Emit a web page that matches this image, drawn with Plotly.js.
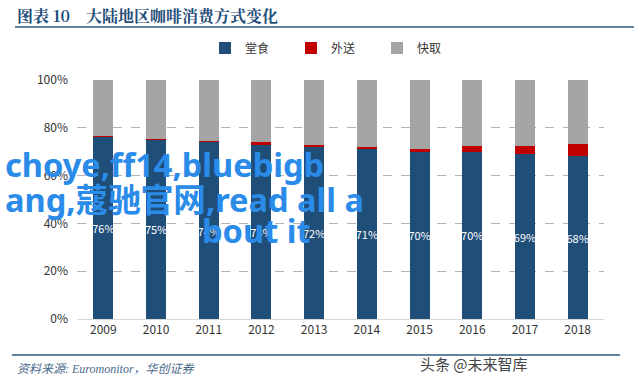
<!DOCTYPE html>
<html>
<head>
<meta charset="utf-8">
<script src="https://cdn.plot.ly/plotly-3.0.1.min.js"></script>
<style>
html,body{margin:0;padding:0;background:#fff;}
#chart{width:640px;height:385px;}
</style>
</head>
<body>
<div id="chart"></div>
<script>
// ---- data ----
var years = ["2009","2010","2011","2012","2013","2014","2015","2016","2017","2018"];
var dineIn = [76, 75, 74, 73, 72, 71, 70, 70, 69, 68];      // 堂食
var delivery = [0.5, 0.5, 0.5, 1, 1, 1, 1, 2.5, 3.5, 5.3];  // 外送
var takeaway = [23.5, 24.5, 25.5, 26, 27, 28, 29, 27.5, 27.5, 26.7]; // 快取
var seriesNames = ["堂食", "外送", "快取"];
var yTickVals = [0, 20, 40, 60, 80, 100];
var yTickText = ["0%", "20%", "40%", "60%", "80%", "100%"];

var W = 640, H = 385;
var mL = 77, mR = 36, mT = 80, mB = 66;
var pw = W - mL - mR, ph = H - mT - mB;
function px(x){ return (x - mL) / pw; }
function py(y){ return (H - mB - y) / ph; }

var cjk = '"Microsoft YaHei","Noto Sans CJK SC","Noto Sans",sans-serif';
var overlayFont = '"Noto Sans","Noto Sans CJK SC",sans-serif';

var traces = [
  {
    type: 'bar', name: seriesNames[0], x: years, y: dineIn,
    marker: {color: '#1f4e79'},
    text: dineIn.map(function(v){ return v + '%'; }),
    textposition: 'inside', insidetextanchor: 'middle',
    textangle: 0, constraintext: 'none',
    textfont: {color: '#ffffff', size: 11, family: cjk},
    hoverinfo: 'skip'
  },
  {
    type: 'bar', name: seriesNames[1], x: years, y: delivery,
    marker: {color: '#c00000'}, hoverinfo: 'skip', textposition: 'none'
  },
  {
    type: 'bar', name: seriesNames[2], x: years, y: takeaway,
    marker: {color: '#a5a5a5'}, hoverinfo: 'skip', textposition: 'none'
  }
];

var blue = '#2b8be8';
var layout = {
  width: W, height: H,
  margin: {l: mL, r: mR, t: mT, b: mB, pad: 0},
  paper_bgcolor: '#ffffff', plot_bgcolor: '#ffffff',
  barmode: 'stack', bargap: 0.62,
  font: {family: cjk, size: 12, color: '#333333'},
  showlegend: true,
  legend: {
    orientation: 'h', x: px(205), y: py(48), xanchor: 'left', yanchor: 'middle',
    entrywidth: 41, entrywidthmode: 'pixels',
    font: {size: 12, color: '#333333', family: cjk},
    bgcolor: 'rgba(0,0,0,0)', traceorder: 'normal'
  },
  xaxis: {
    type: 'category', showgrid: false, zeroline: false,
    showline: true, linecolor: '#d9d9d9', linewidth: 1,
    ticks: '', tickfont: {size: 12, color: '#333333'},
    fixedrange: true
  },
  yaxis: {
    range: [0, 100], tickvals: yTickVals, ticktext: yTickText,
    showgrid: true, gridcolor: '#b4b4b4', griddash: 'dash', gridwidth: 1,
    zeroline: false, showline: false, ticks: '',
    tickfont: {size: 12, color: '#333333'}, ticklabelstandoff: 8,
    fixedrange: true
  },
  shapes: [
    {type: 'line', xref: 'paper', yref: 'paper', x0: px(15), x1: px(634), y0: py(27), y1: py(27),
     line: {color: '#2f5b82', width: 1.5}},
    {type: 'line', xref: 'paper', yref: 'paper', x0: px(12), x1: px(620), y0: py(355), y1: py(355),
     line: {color: '#2f5b82', width: 1.5}}
  ],
  annotations: [
    {xref: 'paper', yref: 'paper', x: px(15), y: py(16), xanchor: 'left', yanchor: 'middle',
     text: '<b>图表 10　大陆地区咖啡消费方式变化</b>', showarrow: false,
     font: {size: 16, color: '#1f4e79', family: '"Noto Serif CJK SC","Noto Sans CJK SC",serif'}},
    {xref: 'paper', yref: 'paper', x: px(15), y: py(369), xanchor: 'left', yanchor: 'middle',
     text: '<i>资料来源: Euromonitor，华创证券</i>', showarrow: false,
     font: {size: 12, color: '#4a6a8a', family: '"Liberation Serif","Noto Sans CJK SC",serif'}},
    {xref: 'paper', yref: 'paper', x: px(418), y: py(363), xanchor: 'left', yanchor: 'middle',
     text: '头条 @未来智库', showarrow: false,
     font: {size: 15, color: '#444444', family: cjk}},
    {xref: 'paper', yref: 'paper', x: px(3), y: py(164), xanchor: 'left', yanchor: 'middle',
     text: 'choye,ff14,bluebigb', showarrow: false,
     font: {size: 32.6, color: blue, family: overlayFont, weight: 'bold'}},
    {xref: 'paper', yref: 'paper', x: px(3), y: py(199), xanchor: 'left', yanchor: 'middle',
     text: 'ang,蔻驰官网,read all a', showarrow: false,
     font: {size: 32.6, color: blue, family: overlayFont, weight: 'bold'}},
    {xref: 'paper', yref: 'paper', x: px(200), y: py(231), xanchor: 'left', yanchor: 'middle',
     text: 'bout it', showarrow: false,
     font: {size: 32.6, color: blue, family: overlayFont, weight: 'bold'}}
  ]
};

Plotly.newPlot('chart', traces, layout, {staticPlot: true, displayModeBar: false});
</script>
</body>
</html>
